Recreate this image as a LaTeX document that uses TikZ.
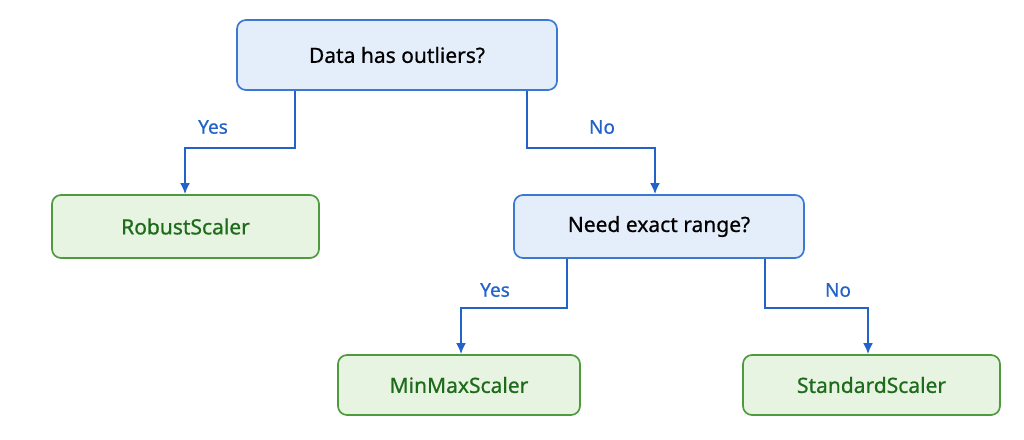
\documentclass[tikz,border=0pt]{standalone}
\usepackage{fontspec}
\setmainfont{Noto Sans}
\newfontfamily\medfont[FakeBold=0.7]{Noto Sans}
\definecolor{qfill}{HTML}{E4EEFB}
\definecolor{qdraw}{HTML}{3A78D2}
\definecolor{sfill}{HTML}{E6F4E1}
\definecolor{sdraw}{HTML}{4E9B3E}
\definecolor{stext}{HTML}{1F6B1C}
\definecolor{arrow}{HTML}{2262C9}
\usetikzlibrary{arrows.meta}
\tikzset{
  question/.style={draw=qdraw,fill=qfill,line width=1.7pt,rounded corners=9pt,font=\medfont\fontsize{21}{24}\selectfont},
  scaler/.style={draw=sdraw,fill=sfill,line width=1.7pt,rounded corners=9pt,text=stext,font=\medfont\fontsize{21}{24}\selectfont},
  branch/.style={draw=arrow,line width=2.1pt,-{Latex[length=11pt,width=10pt]}},
  answer/.style={text=arrow,font=\medfont\fontsize{19}{21}\selectfont}
}
\begin{document}
\begin{tikzpicture}[x=1pt,y=-1pt]
  \useasboundingbox (0,0) rectangle (1024,439);

  % boxes
  \node[question,minimum width=320pt,minimum height=70pt] (outliers) at (397,55) {Data has outliers?};
  \node[scaler,minimum width=267pt,minimum height=63pt] (robust) at (185.5,226.5) {RobustScaler};
  \node[question,minimum width=290pt,minimum height=63pt] (range) at (659,226.5) {Need exact range?};
  \node[scaler,minimum width=242pt,minimum height=60pt] (minmax) at (459,385) {MinMaxScaler};
  \node[scaler,minimum width=257pt,minimum height=60pt] (standard) at (871.5,385) {StandardScaler};

  % branches
  \draw[branch] (outliers.south -| 295,0) |- (185,148) -- (robust.north -| 185,0);
  \draw[branch] (outliers.south -| 527,0) |- (655,148) -- (range.north -| 655,0);
  \draw[branch] (range.south -| 567,0) |- (461,308) -- (minmax.north -| 461,0);
  \draw[branch] (range.south -| 765,0) |- (868,308) -- (standard.north -| 868,0);

  \node[answer] (yes1) at (213,127) {Yes};
  \node[answer] (no1) at (602,127) {No};
  \node[answer] (yes2) at (495,290) {Yes};
  \node[answer] (no2) at (838,290) {No};
\end{tikzpicture}
\end{document}
